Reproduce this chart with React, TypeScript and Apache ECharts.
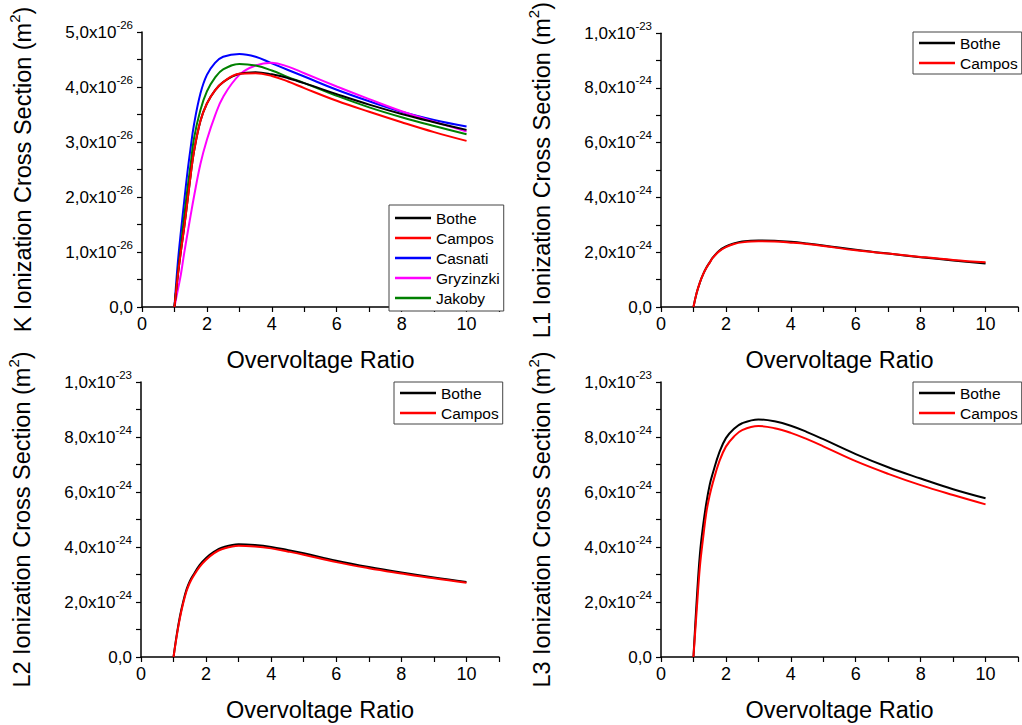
import React, { useEffect, useRef } from "react";
import * as echarts from "echarts";

// Overvoltage ratio sample points (shared by every curve)
const overvoltage = [1, 1.1, 1.2, 1.3, 1.4, 1.5, 1.6, 1.8, 2, 2.25, 2.5, 3, 3.5, 4, 4.5, 5, 6, 7, 8, 9, 10];

// K shell, values in units of 1e-26 m^2
const kBothe = [0, 0.55, 1.02, 1.45, 1.92, 2.4, 2.82, 3.38, 3.7, 3.94, 4.09, 4.24, 4.27, 4.23, 4.16, 4.07, 3.87, 3.68, 3.51, 3.36, 3.22];
const kCampos = [0, 0.55, 1.02, 1.45, 1.92, 2.4, 2.82, 3.38, 3.7, 3.94, 4.09, 4.24, 4.25, 4.2, 4.1, 3.98, 3.75, 3.55, 3.36, 3.18, 3.02];
const kCasnati = [0, 0.78, 1.38, 1.92, 2.45, 2.9, 3.31, 3.88, 4.22, 4.44, 4.55, 4.6, 4.55, 4.43, 4.31, 4.19, 3.95, 3.74, 3.55, 3.4, 3.28];
const kGryzinzki = [0, 0.3, 0.6, 0.98, 1.33, 1.67, 2.0, 2.6, 3.04, 3.48, 3.82, 4.22, 4.39, 4.44, 4.37, 4.25, 4.01, 3.78, 3.56, 3.37, 3.19];
const kJakoby = [0, 0.6, 1.12, 1.65, 2.15, 2.6, 3.06, 3.58, 3.92, 4.17, 4.32, 4.42, 4.39, 4.3, 4.18, 4.07, 3.84, 3.63, 3.45, 3.29, 3.14];

// L1 shell, values in units of 1e-24 m^2
const l1Bothe = [0, 0.52, 0.9, 1.2, 1.44, 1.63, 1.81, 2.06, 2.21, 2.32, 2.39, 2.43, 2.42, 2.38, 2.32, 2.25, 2.09, 1.95, 1.82, 1.7, 1.59];
const l1Campos = [0, 0.52, 0.9, 1.2, 1.43, 1.62, 1.8, 2.04, 2.19, 2.3, 2.36, 2.4, 2.39, 2.35, 2.3, 2.23, 2.07, 1.95, 1.83, 1.72, 1.63];

// L2 shell, values in units of 1e-24 m^2
const l2Bothe = [0, 0.82, 1.5, 2.03, 2.46, 2.76, 2.97, 3.34, 3.6, 3.83, 3.98, 4.1, 4.07, 4.0, 3.89, 3.77, 3.5, 3.27, 3.07, 2.89, 2.73];
const l2Campos = [0, 0.78, 1.44, 1.97, 2.4, 2.7, 2.92, 3.28, 3.54, 3.78, 3.93, 4.05, 4.02, 3.95, 3.84, 3.72, 3.45, 3.23, 3.04, 2.86, 2.7];

// L3 shell, values in units of 1e-24 m^2
const l3Bothe = [0, 2.06, 3.75, 4.8, 5.62, 6.26, 6.7, 7.45, 7.96, 8.3, 8.5, 8.64, 8.57, 8.41, 8.18, 7.92, 7.38, 6.9, 6.49, 6.1, 5.77];
const l3Campos = [0, 1.7, 3.3, 4.35, 5.28, 5.88, 6.35, 7.12, 7.65, 8.02, 8.25, 8.4, 8.32, 8.15, 7.92, 7.66, 7.12, 6.66, 6.25, 5.89, 5.55];

// Tick labels
const xTickValues = [0, 2, 4, 6, 8, 10];
const kYTickValues = [0, 1, 2, 3, 4, 5];
const kYTickMantissa = ["0,0", "1,0x10", "2,0x10", "3,0x10", "4,0x10", "5,0x10"];
const kYTickExponent = ["", "-26", "-26", "-26", "-26", "-26"];
const lYTickValues = [0, 2, 4, 6, 8, 10];
const lYTickMantissa = ["0,0", "2,0x10", "4,0x10", "6,0x10", "8,0x10", "1,0x10"];
const lYTickExponent = ["", "-24", "-24", "-24", "-24", "-23"];

const seriesColors: Record<string, string> = {
  Bothe: "#000000",
  Campos: "#ff0000",
  Casnati: "#0000ff",
  Gryzinzki: "#ff00ff",
  Jakoby: "#008000",
};

const FONT = "Liberation Sans, Arial, sans-serif";

function pairs(ys: number[]) {
  return overvoltage.map((x, i) => [x, ys[i]]);
}

export default function App() {
  const ref = useRef<HTMLDivElement>(null);
  useEffect(() => {
    document.body.style.margin = "0";
    if (!ref.current) return;
    const chart = echarts.init(ref.current, undefined, { renderer: "svg" });

    const grids = [
      { left: 142, top: 32, width: 357, height: 275 },
      { left: 661, top: 32, width: 357, height: 275 },
      { left: 141, top: 382, width: 358, height: 275 },
      { left: 661, top: 382, width: 357, height: 275 },
    ];

    const yNames = ["K", "L1", "L2", "L3"];

    const makeYLabel = (vals: number[], mant: string[], exps: string[]) => (v: number) => {
      const i = vals.findIndex((t) => Math.abs(t - v) < 1e-6);
      if (i < 0) return "";
      if (!exps[i]) return `{m|${mant[i]}}`;
      return `{m|${mant[i]}}{e|${exps[i]}}`;
    };

    const yAxes = grids.map((_, gi) => {
      const isK = gi === 0;
      return {
        type: "value",
        gridIndex: gi,
        min: 0,
        max: isK ? 5 : 10,
        interval: isK ? 0.5 : 1,
        name: `${yNames[gi]} Ionization Cross Section (m{s|2})`,
        nameLocation: "middle",
        nameGap: 103,
        nameTextStyle: {
          fontFamily: FONT,
          fontSize: 23.5,
          color: "#000",
          lineHeight: 32,
          rich: {
            s: { fontFamily: FONT, fontSize: 15, color: "#000", verticalAlign: "top", lineHeight: 15 },
          },
        },
        axisLine: { show: true, lineStyle: { color: "#000", width: 1.5 } },
        axisTick: { show: true, inside: false, length: 5, lineStyle: { color: "#000", width: 1.2 } },
        splitLine: { show: false },
        axisLabel: {
          margin: 9,
          formatter: isK
            ? makeYLabel(kYTickValues, kYTickMantissa, kYTickExponent)
            : makeYLabel(lYTickValues, lYTickMantissa, lYTickExponent),
          rich: {
            m: { fontFamily: FONT, fontSize: 17, color: "#000", lineHeight: 27 },
            e: { fontFamily: FONT, fontSize: 11.5, color: "#000", verticalAlign: "top", lineHeight: 12 },
          },
        },
      };
    });

    const xAxes = grids.map((_, gi) => ({
      type: "value",
      gridIndex: gi,
      min: 0,
      max: 11,
      interval: 1,
      name: "Overvoltage Ratio",
      nameLocation: "middle",
      nameGap: 41,
      nameTextStyle: { fontFamily: FONT, fontSize: 23.5, color: "#000" },
      axisLine: { show: true, onZero: false, lineStyle: { color: "#000", width: 1.5 } },
      axisTick: { show: true, inside: false, length: 5, lineStyle: { color: "#000", width: 1.2 } },
      splitLine: { show: false },
      axisLabel: {
        margin: 8,
        fontFamily: FONT,
        fontSize: 18,
        color: "#000",
        formatter: (v: number) => (xTickValues.includes(v) ? String(v) : ""),
      },
    }));

    const panelData: { name: string; data: number[] }[][] = [
      [
        { name: "Bothe", data: kBothe },
        { name: "Campos", data: kCampos },
        { name: "Casnati", data: kCasnati },
        { name: "Gryzinzki", data: kGryzinzki },
        { name: "Jakoby", data: kJakoby },
      ],
      [
        { name: "Bothe", data: l1Bothe },
        { name: "Campos", data: l1Campos },
      ],
      [
        { name: "Bothe", data: l2Bothe },
        { name: "Campos", data: l2Campos },
      ],
      [
        { name: "Bothe", data: l3Bothe },
        { name: "Campos", data: l3Campos },
      ],
    ];

    const series: any[] = [];
    panelData.forEach((panel, gi) => {
      panel.forEach((s) => {
        series.push({
          type: "line",
          name: s.name,
          xAxisIndex: gi,
          yAxisIndex: gi,
          data: pairs(s.data),
          smooth: 0.4,
          symbol: "none",
          lineStyle: { color: seriesColors[s.name], width: 2 },
          itemStyle: { color: seriesColors[s.name] },
          z: s.name === "Campos" ? 4 : s.name === "Bothe" ? 3 : 2,
        });
      });
    });

    const legendBase = {
      orient: "vertical",
      itemWidth: 36,
      itemHeight: 14,
      itemGap: 4,
      borderColor: "#444",
      borderWidth: 1,
      borderRadius: 0,
      backgroundColor: "#fff",
      textStyle: { fontFamily: FONT, fontSize: 15.5, color: "#000" },
      icon: "path://M0,0 L36,0 L36,2.6 L0,2.6 Z",
      selectedMode: false,
    };

    const legends = [
      { ...legendBase, left: 389, top: 205, padding: [5, 4, 5, 6], data: ["Bothe", "Campos", "Casnati", "Gryzinzki", "Jakoby"] },
      { ...legendBase, left: 913, top: 32, padding: [3, 4, 3, 6], data: ["Bothe", "Campos"] },
      { ...legendBase, left: 394, top: 382, padding: [3, 4, 3, 6], data: ["Bothe", "Campos"] },
      { ...legendBase, left: 913, top: 382, padding: [3, 4, 3, 6], data: ["Bothe", "Campos"] },
    ];

    chart.setOption({
      animation: false,
      backgroundColor: "#fff",
      grid: grids.map((g) => ({ ...g, containLabel: false })),
      xAxis: xAxes,
      yAxis: yAxes,
      legend: legends,
      series,
    });

    return () => chart.dispose();
  }, []);

  return <div ref={ref} style={{ width: 1022, height: 725 }} />;
}
